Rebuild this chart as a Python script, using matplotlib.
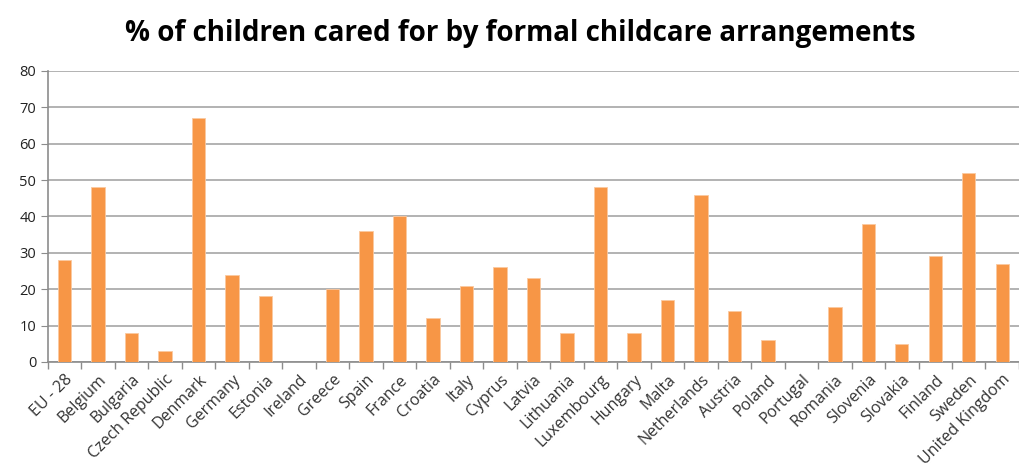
import numpy as np
import matplotlib.pyplot as plt

countries = ["EU - 28", "Belgium", "Bulgaria", "Czech Republic", "Denmark", "Germany",
             "Estonia", "Ireland", "Greece", "Spain", "France", "Croatia", "Italy",
             "Cyprus", "Latvia", "Lithuania", "Luxembourg", "Hungary", "Malta",
             "Netherlands", "Austria", "Poland", "Portugal", "Romania", "Slovenia",
             "Slovakia", "Finland", "Sweden", "United Kingdom"]
values = [28, 48, 8, 3, 67, 24, 18, 0, 20, 36, 40, 12, 21, 26, 23, 8, 48, 8, 17,
          46, 14, 6, 0, 15, 38, 5, 29, 52, 27]

plt.rcParams['font.family'] = ['Open Sans', 'DejaVu Sans']

fig = plt.figure(figsize=(10.2, 4.7), dpi=100)
ax = fig.add_axes([0.047, 0.23, 0.952, 0.619])

x = np.arange(len(countries))
ax.bar(x, values, width=0.4, color="#F79646", edgecolor="#FBC9A0", linewidth=0.6, zorder=3)

ax.set_xlim(-0.5, len(countries) - 0.5)
ax.set_ylim(0, 80)
ax.set_yticks(range(0, 81, 10))
ax.grid(axis="y", color="#A6A6A6", linewidth=1.2, zorder=0)

ax.set_xticks(x)
ax.set_xticklabels(countries, rotation=45, ha="right", rotation_mode="anchor",
                   fontsize=11.5, color="#333333")
ax.tick_params(axis="x", which="major", length=0, pad=7)
ax.set_xticks(np.arange(-0.5, len(countries) - 0.4, 1), minor=True)
ax.tick_params(axis="x", which="minor", length=5, color="#8C8C8C", width=1)
ax.tick_params(axis="y", length=5, color="#8C8C8C", labelsize=10.5, labelcolor="#222222")

for s in ["top", "right"]:
    ax.spines[s].set_visible(False)
ax.spines["left"].set_color("#8C8C8C")
ax.spines["bottom"].set_color("#8C8C8C")
ax.spines["left"].set_linewidth(1.2)
ax.spines["bottom"].set_linewidth(1.2)

fig.suptitle("% of children cared for by formal childcare arrangements",
             x=0.51, y=0.96, fontsize=20, fontweight="bold")

fig.savefig("out.png", dpi=100)
